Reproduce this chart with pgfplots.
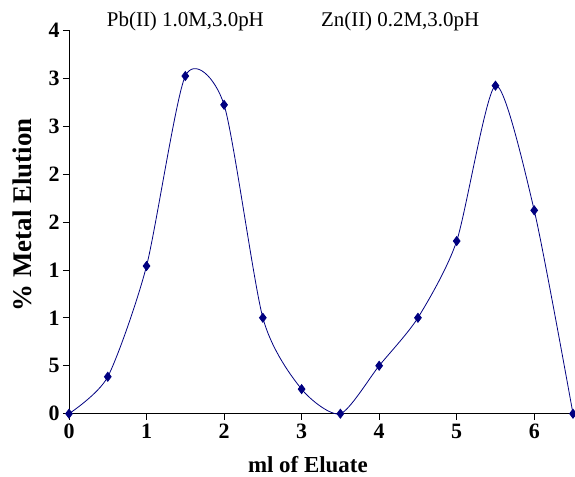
\documentclass[border=0pt]{standalone}
\usepackage{pgfplots}
\pgfplotsset{compat=1.18}
\usepackage{fontspec}
\setmainfont{Liberation Serif}
\definecolor{navy}{RGB}{0,0,128}
\begin{document}
\begin{tikzpicture}
\begin{axis}[
  scale only axis,
  width=504bp, height=383.7bp,
  xmin=0, xmax=6.5, ymin=0, ymax=40,
  axis lines=left,
  axis line style={-, black, line width=0.8pt},
  clip=false,
  xtick={0,1,2,3,4,5,6},
  xticklabels={0,1,2,3,4,5,6},
  ytick={0,5,10,15,20,25,30,35,40},
  yticklabels={0,5,1,1,2,2,3,3,4},
  tick align=outside,
  major tick length=6bp,
  tick style={black, line width=0.6pt},
  tick label style={font=\fontsize{22}{24}\selectfont\bfseries},
  xticklabel style={yshift=-1bp},
  yticklabel style={xshift=0bp},
  xlabel={ml of Eluate},
  ylabel={\% Metal Elution},
  xlabel style={font=\fontsize{23}{26}\selectfont\bfseries, at={(axis description cs:0.474,-0.132)}, anchor=center},
  ylabel style={font=\fontsize{27}{30}\selectfont\bfseries, at={(axis description cs:-0.093,0.518)}, anchor=center, rotate=0},
]
\addplot[color=navy, line width=0.8pt, smooth, tension=0.42, mark=diamond*, mark size=4.5bp, mark options={fill=navy, draw=navy}]
coordinates {
(0,0) (0.5,3.85) (1,15.4) (1.5,35.2) (2,32.2) (2.5,10.0) (3,2.56) (3.5,0)
(4,5.0) (4.5,10.0) (5,18.0) (5.5,34.2) (6,21.2) (6.5,0)
};
\node[font=\fontsize{21}{24}\selectfont, anchor=center] at (rel axis cs:0.231,1.021) {Pb(II) 1.0M,3.0pH};
\node[font=\fontsize{21}{24}\selectfont, anchor=center] at (rel axis cs:0.657,1.021) {Zn(II) 0.2M,3.0pH};
\coordinate (ll) at (rel axis cs:0,0);
\coordinate (ur) at (rel axis cs:1,1);
\end{axis}
\pgfresetboundingbox
\path ([shift={(-69bp,-63.3bp)}]ll) rectangle ([shift={(2bp,30bp)}]ur);
\end{tikzpicture}
\end{document}
